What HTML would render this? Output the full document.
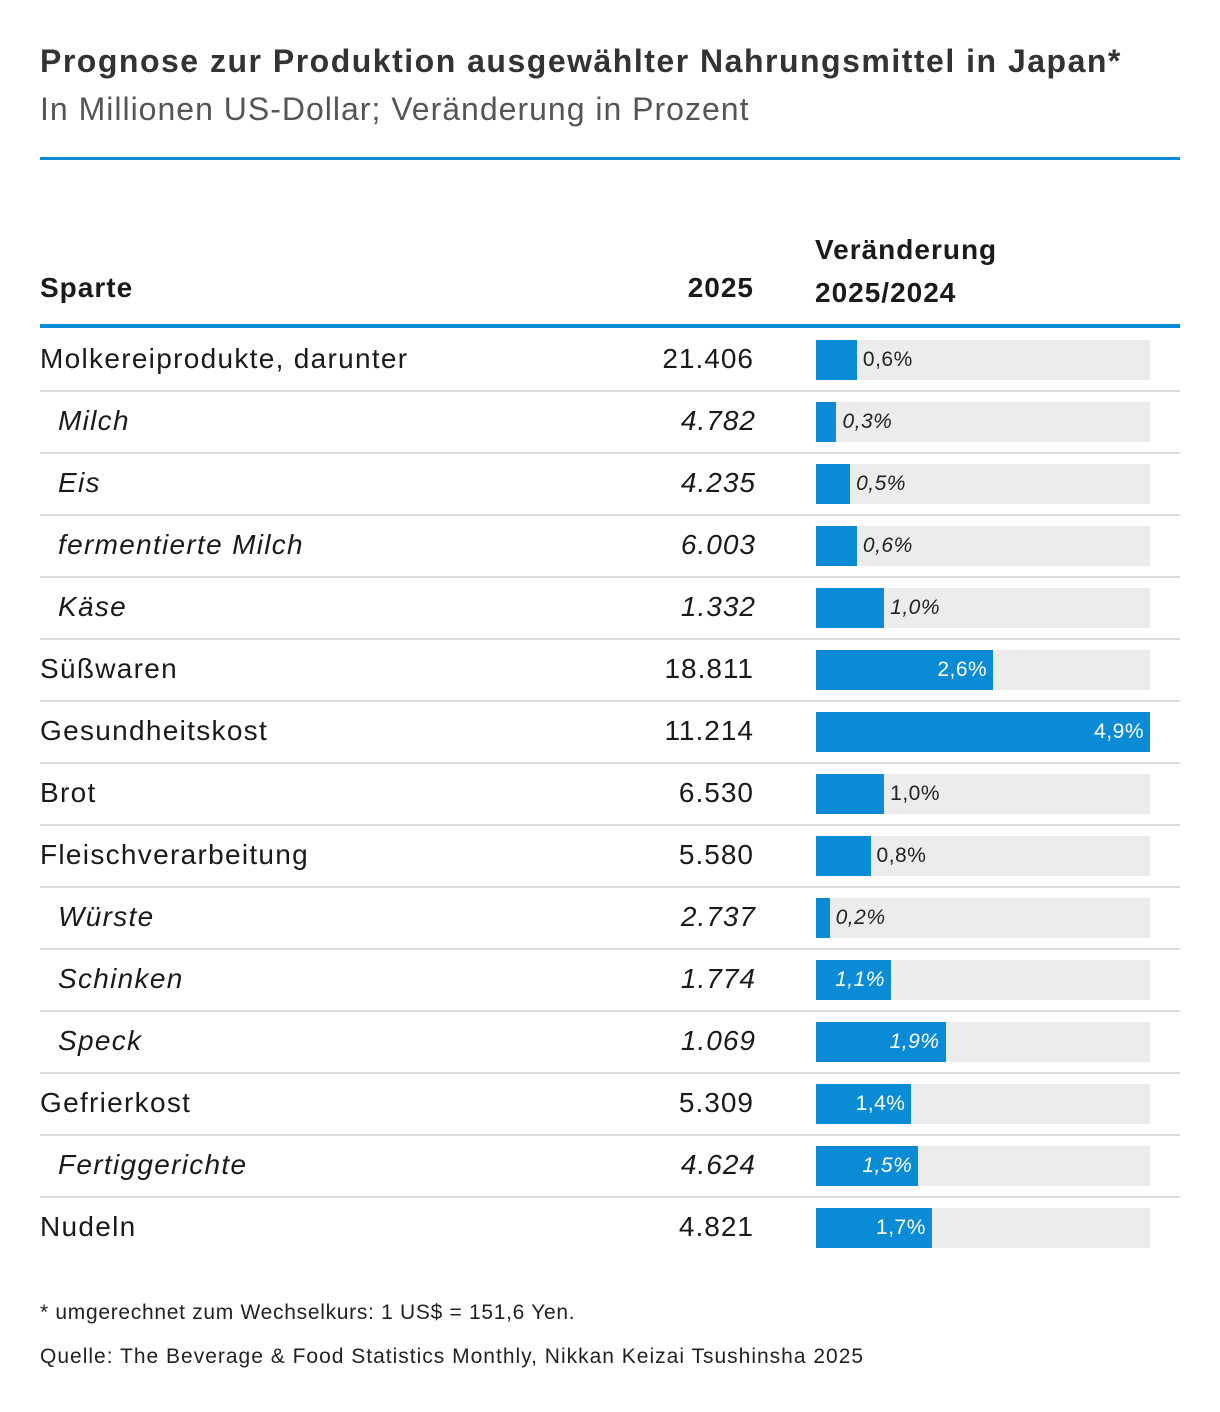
<!DOCTYPE html>
<html><head><meta charset="utf-8">
<style>
body{margin:0;background:#fff;font-family:"Liberation Sans",sans-serif;color:#1a1a1a}
#wrap{position:relative;width:1220px;height:1412px;overflow:hidden}
.abs{position:absolute;white-space:nowrap}
</style></head><body>
<div id="wrap">
<div class="abs" style="left:40px;top:43px;font-size:32px;letter-spacing:1.5px;font-weight:bold;color:#333">Prognose zur Produktion ausgewählter Nahrungsmittel in Japan*</div>
<div class="abs" style="left:40px;top:91px;font-size:32px;letter-spacing:1px;color:#555">In Millionen US-Dollar; Veränderung in Prozent</div>
<div class="abs" style="left:40px;top:157px;width:1140px;height:3px;background:#0a8bd6"></div>
<div class="abs" style="left:40px;top:272px;font-size:28px;letter-spacing:1px;font-weight:bold">Sparte</div>
<div class="abs" style="right:466px;top:272px;font-size:28px;letter-spacing:1px;font-weight:bold">2025</div>
<div class="abs" style="left:815px;top:228px;font-size:28px;letter-spacing:1px;font-weight:bold;line-height:43px">Veränderung<br>2025/2024</div>
<div class="abs" style="left:40px;top:324px;width:1140px;height:4px;background:#0a8bd6"></div>
<div class="abs" style="left:40px;top:1301px;font-size:21px;letter-spacing:0.7px;color:#222">* umgerechnet zum Wechselkurs: 1 US$ = 151,6 Yen.</div>
<div class="abs" style="left:40px;top:1345px;font-size:21px;letter-spacing:1px;color:#222">Quelle: The Beverage &amp; Food Statistics Monthly, Nikkan Keizai Tsushinsha 2025</div>
</div>
<script>
const categories=["Molkereiprodukte, darunter","Milch","Eis","fermentierte Milch","Käse","Süßwaren","Gesundheitskost","Brot","Fleischverarbeitung","Würste","Schinken","Speck","Gefrierkost","Fertiggerichte","Nudeln"];
const values2025=["21.406","4.782","4.235","6.003","1.332","18.811","11.214","6.530","5.580","2.737","1.774","1.069","5.309","4.624","4.821"];
const changes=[0.6,0.3,0.5,0.6,1.0,2.6,4.9,1.0,0.8,0.2,1.1,1.9,1.4,1.5,1.7];
const subRows=[false,true,true,true,true,false,false,false,false,true,true,true,false,true,false];
const maxChange=4.9;
const trackX=816,trackW=334,y0=340,step=62;
const xScale=v=>v/maxChange*trackW;
const root=document.getElementById('wrap');
categories.forEach((c,i)=>{
  const top=y0+i*step, it=subRows[i];
  const lab=document.createElement('div');
  lab.className='abs';
  
  
  lab.style.cssText=`left:${it?58:40}px;top:${top+3}px;font-size:28px;letter-spacing:1.3px;${it?'font-style:italic;':''}`;
  lab.textContent=c;root.appendChild(lab);
  const val=document.createElement('div');
  val.className='abs';
  
  
  val.style.cssText=`right:${it?464:466}px;top:${top+3}px;font-size:28px;letter-spacing:1px;${it?'font-style:italic;':''}`;
  val.textContent=values2025[i];root.appendChild(val);
  const tr=document.createElement('div');
  tr.className='abs';
  
  
  tr.style.cssText=`left:${trackX}px;top:${top}px;width:${trackW}px;height:40px;background:#ececec`;
  root.appendChild(tr);
  const w=xScale(changes[i]);
  const b=document.createElement('div');
  b.className='abs';
  
  
  b.style.cssText=`left:${trackX}px;top:${top}px;width:${w}px;height:40px;background:#0a8bd6`;
  root.appendChild(b);
  const t=document.createElement('div');
  t.className='abs';
  
  
  const txt=changes[i].toFixed(1).replace('.',',')+'%';
  const inside=changes[i]>=1.05;
  if(inside){t.style.cssText=`right:${1220-(trackX+w)+6}px;top:${top+8}px;font-size:21px;letter-spacing:0.5px;color:#fff;${it?'font-style:italic;':''}`;}
  else{t.style.cssText=`left:${trackX+w+6}px;top:${top+8}px;font-size:21px;letter-spacing:0.5px;color:#222;${it?'font-style:italic;':''}`;}
  t.textContent=txt;root.appendChild(t);
  if(i<categories.length-1){
    const l=document.createElement('div');
    l.className='abs';
    
    
    l.style.cssText=`left:40px;top:${top+50}px;width:1140px;height:2px;background:#ddd`;
    root.appendChild(l);
  }
});
</script>
</body></html>
